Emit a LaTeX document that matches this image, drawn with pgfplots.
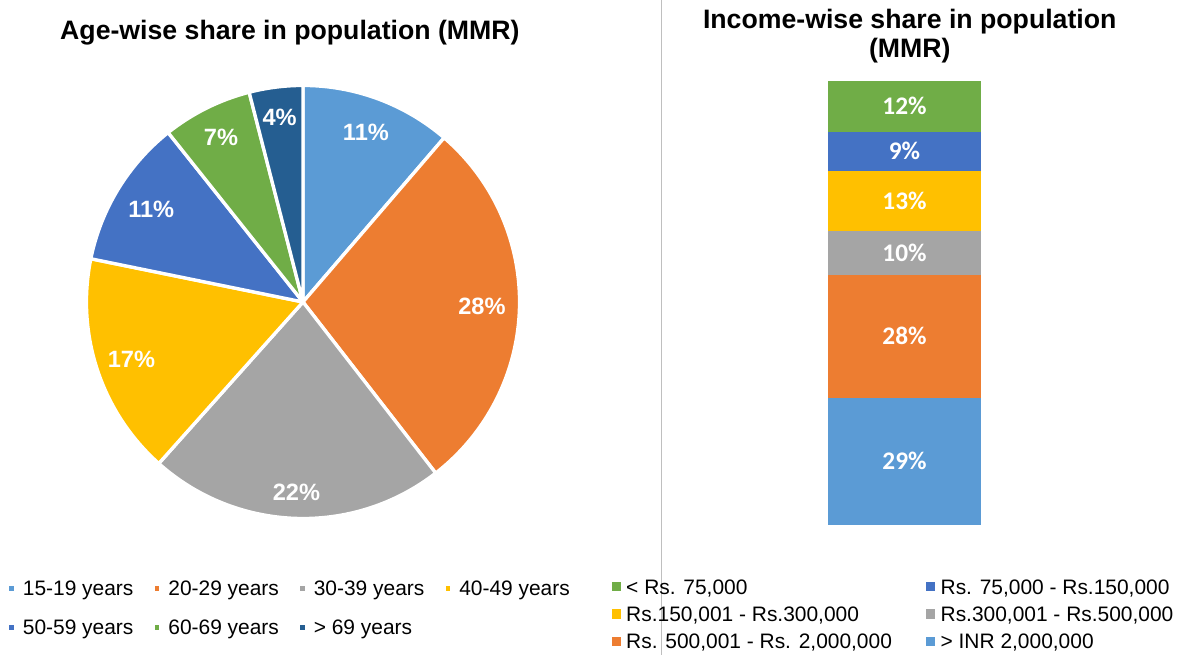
\documentclass[border=0pt]{standalone}
\usepackage{fontspec}
\setmainfont{Liberation Sans}
\newfontfamily\carlito{Carlito}
\usepackage{pgfplots}
\pgfplotsset{compat=1.18}

\definecolor{c1}{HTML}{5B9BD5}
\definecolor{c2}{HTML}{ED7D31}
\definecolor{c3}{HTML}{A5A5A5}
\definecolor{c4}{HTML}{FFC000}
\definecolor{c5}{HTML}{4472C4}
\definecolor{c6}{HTML}{70AD47}
\definecolor{c7}{HTML}{255E91}
\definecolor{sepgray}{HTML}{BFBFBF}

\def\R{162.4pt}
% #1 colour, #2 cumulative share before (%), #3 cumulative share after (%)
\newcommand{\slice}[3]{%
  \fill[#1, draw=white, line width=2.5pt, line join=round]
    (axis cs:0,0) -- ++({90-3.6*#2}:\R)
    arc[start angle={90-3.6*#2}, end angle={90-3.6*#3}, radius=\R] -- cycle;}
% #1,#2 cumulative bounds (%), #3 distance from centre (px), #4 text
\newcommand{\slicelabel}[4]{%
  \path (axis cs:0,0) ++({90-1.8*(#1+#2)}:{0.75pt*#3})
    node[text=white, font=\bfseries\fontsize{17.7}{20}\selectfont] {#4};}
\newcommand{\barlabel}[2]{%
  \node[text=white, font=\carlito\bfseries\fontsize{19}{22}\selectfont] at (axis cs:0,#1) {#2};}

\begin{document}
\begin{tikzpicture}
\path[use as bounding box] (0,0) rectangle (886.5pt,491.25pt);
\draw[sepgray, line width=1pt] (496.3pt,0pt) -- (496.3pt,491.25pt);

\node[anchor=base, font=\bfseries\fontsize{20}{24}\selectfont] at (217.4pt,461.25pt) {Age-wise share in population (MMR)};
\node[anchor=base, font=\bfseries\fontsize{20}{24}\selectfont] at (682.3pt,470pt) {Income-wise share in population};
\node[anchor=base, font=\bfseries\fontsize{20}{24}\selectfont] at (682.3pt,447.9pt) {(MMR)};

% ---------------- Pie: age-wise share ----------------
\begin{axis}[
  at={(66pt,103.5pt)}, anchor=south west,
  scale only axis, width=322.5pt, height=322.5pt,
  xmin=-1, xmax=1, ymin=-1, ymax=1,
  hide axis, clip=false,
  legend columns=4,
  legend cell align=left,
  legend image code/.code={\fill[#1] (0pt,-1.75pt) rectangle (3.5pt,1.75pt);},
  legend style={at={(-0.18302,-0.14837)}, anchor=north west, draw=none, fill=none,
    inner sep=0pt, outer sep=0pt,
    font=\fontsize{15.7}{18}\selectfont,
    nodes={inner sep=0pt, text height=11.2pt, text depth=0pt},
    column sep=0pt, row sep=18.2pt,
    /tikz/every odd column/.append style={column sep=6.7pt}},
]
\addlegendimage{fill=c1, draw=none}\addlegendentry{\makebox[98.9pt][l]{15-19 years}}
\addlegendimage{fill=c2, draw=none}\addlegendentry{\makebox[98.9pt][l]{20-29 years}}
\addlegendimage{fill=c3, draw=none}\addlegendentry{\makebox[98.9pt][l]{30-39 years}}
\addlegendimage{fill=c4, draw=none}\addlegendentry{40-49 years}
\addlegendimage{fill=c5, draw=none}\addlegendentry{\makebox[98.9pt][l]{50-59 years}}
\addlegendimage{fill=c6, draw=none}\addlegendentry{\makebox[98.9pt][l]{60-69 years}}
\addlegendimage{fill=c7, draw=none}\addlegendentry{\makebox[98.9pt][l]{> 69 years}}
% shares: 11.3, 28.2, 22.1, 16.6, 11.1, 6.7, 4.0 (cumulative bounds below)
\slice{c1}{0}{11.3}
\slice{c2}{11.3}{39.5}
\slice{c3}{39.5}{61.6}
\slice{c4}{61.6}{78.2}
\slice{c5}{78.2}{89.3}
\slice{c6}{89.3}{96.0}
\slice{c7}{96.0}{100}
\slicelabel{0}{11.3}{181}{11\%}
\slicelabel{11.3}{39.5}{179}{28\%}
\slicelabel{39.5}{61.6}{190.5}{22\%}
\slicelabel{61.6}{78.2}{180.8}{17\%}
\slicelabel{78.2}{89.3}{178}{11\%}
\slicelabel{89.3}{96.0}{184}{7\%}
\slicelabel{96.0}{100}{186.5}{4\%}
\end{axis}

% ---------------- Stacked bar: income-wise share ----------------
\begin{axis}[
  at={(621pt,97.5pt)}, anchor=south west,
  scale only axis, width=114.75pt, height=333pt,
  xmin=-0.5, xmax=0.5, ymin=0, ymax=100,
  ybar stacked, bar width=114.75pt,
  hide axis, clip=false,
  legend columns=2, legend cell align=left, reverse legend,
  legend image code/.code={\fill[#1] (0pt,-3.5pt) rectangle (7pt,3.5pt);},
  legend style={at={(-1.4137,-0.12207)}, anchor=north west, draw=none, fill=none,
    inner sep=0pt, outer sep=0pt,
    font=\fontsize{15.7}{18}\selectfont,
    nodes={inner sep=0pt, text height=11.2pt, text depth=0pt},
    column sep=0pt, row sep=9.3pt,
    /tikz/every odd column/.append style={column sep=3.9pt}},
]
\addplot[fill=c1, draw=none] coordinates {(0,28.7)};
\addlegendentry{> INR 2,000,000}
\addplot[fill=c2, draw=none] coordinates {(0,27.6)};
\addlegendentry{\makebox[224.9pt][l]{Rs. 500,001 - Rs. 2,000,000}}
\addplot[fill=c3, draw=none] coordinates {(0,10.0)};
\addlegendentry{Rs.300,001 - Rs.500,000}
\addplot[fill=c4, draw=none] coordinates {(0,13.4)};
\addlegendentry{\makebox[224.9pt][l]{Rs.150,001 - Rs.300,000}}
\addplot[fill=c5, draw=none] coordinates {(0,8.9)};
\addlegendentry{Rs. 75,000 - Rs.150,000}
\addplot[fill=c6, draw=none] coordinates {(0,11.4)};
\addlegendentry{\makebox[224.9pt][l]{< Rs. 75,000}}
\end{axis}

% ---------------- Data labels on the stacked bar (same axis frame) ----------------
\begin{axis}[
  at={(621pt,97.5pt)}, anchor=south west,
  scale only axis, width=114.75pt, height=333pt,
  xmin=-0.5, xmax=0.5, ymin=0, ymax=100,
  hide axis, clip=false,
]
\barlabel{14.35}{29\%}
\barlabel{42.5}{28\%}
\barlabel{61.3}{10\%}
\barlabel{73.0}{13\%}
\barlabel{84.15}{9\%}
\barlabel{94.3}{12\%}
\end{axis}
\end{tikzpicture}
\end{document}
